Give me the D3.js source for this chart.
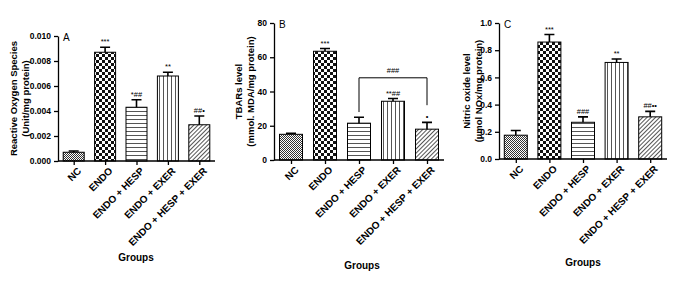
<!DOCTYPE html>
<html lang="en">
<head>
<meta charset="UTF-8">
<title>Oxidative stress markers</title>
<script src="https://cdn.jsdelivr.net/npm/d3@7/dist/d3.min.js"></script>
<style>
  body { margin: 0; background: #fff; }
  text { font-family: "Liberation Sans", Arial, sans-serif; fill: #000; }
  .axis path, .axis line { stroke: #000; stroke-width: 1.3px; }
  .axis text { font-weight: bold; fill: #000; }
  .y.axis text { font-family: "Liberation Sans Narrow", "Arial Narrow", sans-serif; font-size: 8.5px; }
  .x.axis text { font-size: 10px; }
</style>
</head>
<body>
<script>
// groups and values
var groups = ["NC", "ENDO", "ENDO + HESP", "ENDO + EXER", "ENDO + HESP + EXER"];

var rosMean = [0.0007, 0.0087, 0.0043, 0.0068, 0.0029];
var rosErr = [0.0001, 0.0004, 0.0006, 0.0003, 0.0007];
var rosMarks = ["", "***", "*##", "**", "##\u2022"];
var rosTicks = [0, 0.002, 0.004, 0.006, 0.008, 0.010];

var tbarsMean = [15, 63.5, 21.5, 34.3, 18];
var tbarsErr = [0.6, 1.6, 3.5, 1.6, 4];
var tbarsMarks = ["", "***", "", "**##", "\u2022"];
var tbarsTicks = [0, 20, 40, 60, 80];

var noMean = [0.175, 0.86, 0.27, 0.71, 0.31];
var noErr = [0.035, 0.055, 0.04, 0.025, 0.04];
var noMarks = ["", "***", "###", "**", "##\u2022\u2022"];
var noTicks = [0, 0.2, 0.4, 0.6, 0.8, 1.0];

// bracket in panel B: from group 2 to group 4
var bracketB = { from: 2, to: 4, top: 48, leftEnd: 28, rightEnd: 32, label: "###" };

var w = 684, h = 281;
var svg = d3.select("body").append("svg")
    .attr("width", w)
    .attr("height", h);

// fill patterns
var defs = svg.append("defs");

var p0 = defs.append("pattern").attr("id", "pat0").attr("patternUnits", "userSpaceOnUse")
    .attr("width", 2).attr("height", 2);
p0.append("rect").attr("width", 2).attr("height", 2).attr("fill", "#fff");
p0.append("rect").attr("width", 1).attr("height", 1).attr("fill", "#333");
p0.append("rect").attr("x", 1).attr("y", 1).attr("width", 1).attr("height", 1).attr("fill", "#333");

var p1 = defs.append("pattern").attr("id", "pat1").attr("patternUnits", "userSpaceOnUse")
    .attr("width", 6).attr("height", 6);
p1.append("rect").attr("width", 6).attr("height", 6).attr("fill", "#fff");
p1.append("rect").attr("width", 3).attr("height", 3).attr("fill", "#111");
p1.append("rect").attr("x", 3).attr("y", 3).attr("width", 3).attr("height", 3).attr("fill", "#111");

var p2 = defs.append("pattern").attr("id", "pat2").attr("patternUnits", "userSpaceOnUse")
    .attr("width", 4).attr("height", 4);
p2.append("rect").attr("width", 4).attr("height", 4).attr("fill", "#fff");
p2.append("rect").attr("y", 3).attr("width", 4).attr("height", 1).attr("fill", "#555");

var p3 = defs.append("pattern").attr("id", "pat3").attr("patternUnits", "userSpaceOnUse")
    .attr("width", 4).attr("height", 4);
p3.append("rect").attr("width", 4).attr("height", 4).attr("fill", "#fff");
p3.append("rect").attr("x", 3).attr("width", 1).attr("height", 4).attr("fill", "#555");

var p4 = defs.append("pattern").attr("id", "pat4").attr("patternUnits", "userSpaceOnUse")
    .attr("width", 3).attr("height", 3).attr("patternTransform", "rotate(45)");
p4.append("rect").attr("width", 3).attr("height", 3).attr("fill", "#fff");
p4.append("rect").attr("width", 1).attr("height", 3).attr("fill", "#555");

var fills = ["url(#pat0)", "url(#pat1)", "url(#pat2)", "url(#pat3)", "url(#pat4)"];

function drawPanel(cfg) {
    var g = svg.append("g");

    var xScale = d3.scalePoint()
        .domain(groups)
        .range([cfg.x0, cfg.x1])
        .padding(0.5);

    var yScale = d3.scaleLinear()
        .domain([0, cfg.ticks[cfg.ticks.length - 1]])
        .range([cfg.y0, cfg.y1]);

    // bars
    g.selectAll(".bar")
        .data(cfg.mean)
        .enter()
        .append("rect")
        .attr("x", function(d, i) { return xScale(groups[i]) - cfg.bw / 2; })
        .attr("y", function(d) { return yScale(d); })
        .attr("width", cfg.bw)
        .attr("height", function(d) { return cfg.y0 - yScale(d); })
        .attr("fill", function(d, i) { return fills[i]; })
        .attr("stroke", "#000")
        .attr("stroke-width", 1);

    // error bars (upper only)
    g.selectAll(".err")
        .data(cfg.mean)
        .enter()
        .append("path")
        .attr("d", function(d, i) {
            var cx = xScale(groups[i]);
            var top = yScale(d + cfg.err[i]);
            return "M" + cx + "," + yScale(d) + "V" + top +
                "M" + (cx - 5) + "," + top + "H" + (cx + 5);
        })
        .attr("stroke", "#000")
        .attr("stroke-width", 1.6)
        .attr("fill", "none");

    // significance marks
    g.selectAll(".mark")
        .data(cfg.marks)
        .enter()
        .append("text")
        .attr("x", function(d, i) { return xScale(groups[i]); })
        .attr("y", function(d, i) { return yScale(cfg.mean[i] + cfg.err[i]) - 3; })
        .attr("text-anchor", "middle")
        .style("font-size", "7.5px")
        .text(function(d) { return d; });

    // axes
    g.append("g")
        .attr("class", "x axis")
        .attr("transform", "translate(0," + cfg.y0 + ")")
        .call(d3.axisBottom(xScale).tickSizeOuter(0).tickSize(4))
        .call(function(a) { a.select(".domain").attr("d", "M" + cfg.x0 + ",0H" + cfg.x1); })
        .selectAll("text")
        .attr("text-anchor", "end")
        .attr("dx", "-0.2em")
        .attr("dy", "0.6em")
        .attr("transform", "rotate(-45)");

    g.append("g")
        .attr("class", "y axis")
        .attr("transform", "translate(" + cfg.x0 + ",0)")
        .call(d3.axisLeft(yScale).tickValues(cfg.ticks).tickFormat(d3.format(cfg.fmt)).tickSize(4).tickSizeOuter(0));

    // panel letter
    g.append("text")
        .attr("x", cfg.x0 + 5)
        .attr("y", cfg.y1 + 5)
        .style("font-size", "10px")
        .text(cfg.letter);

    // y axis title
    var cy = (cfg.y0 + cfg.y1) / 2;
    cfg.ylab.forEach(function(t, i) {
        g.append("text")
            .attr("transform", "translate(" + (cfg.labX + i * 12) + "," + cy + ") rotate(-90)")
            .attr("text-anchor", "middle")
            .attr("dy", "0.35em")
            .style("font-size", "9.5px")
            .style("font-weight", "bold")
            .text(t);
    });

    // x axis title
    g.append("text")
        .attr("x", cfg.gx)
        .attr("y", cfg.gy)
        .attr("text-anchor", "middle")
        .style("font-size", "10px")
        .style("font-weight", "bold")
        .text("Groups");

    return { x: xScale, y: yScale, g: g };
}

drawPanel({
    x0: 58, x1: 215, y0: 161, y1: 36, bw: 21,
    mean: rosMean, err: rosErr, marks: rosMarks, ticks: rosTicks, fmt: ".3f",
    letter: "A", ylab: ["Reactive Oxygen Species", "(Unit/mg protein)"], labX: 14,
    gx: 136, gy: 261
});

var pb = drawPanel({
    x0: 274, x1: 444, y0: 160, y1: 23, bw: 23,
    mean: tbarsMean, err: tbarsErr, marks: tbarsMarks, ticks: tbarsTicks, fmt: "d",
    letter: "B", ylab: ["TBARs level", "(mmol. MDA/mg protein)"], labX: 239,
    gx: 362, gy: 269
});

// bracket in B
var bx1 = pb.x(groups[bracketB.from]), bx2 = pb.x(groups[bracketB.to]);
pb.g.append("path")
    .attr("d", "M" + bx1 + "," + pb.y(bracketB.leftEnd) + "V" + pb.y(bracketB.top) +
        "H" + bx2 + "V" + pb.y(bracketB.rightEnd))
    .attr("fill", "none")
    .attr("stroke", "#000")
    .attr("stroke-width", 1);
pb.g.append("text")
    .attr("x", (bx1 + bx2) / 2)
    .attr("y", pb.y(bracketB.top) - 5)
    .attr("text-anchor", "middle")
    .style("font-size", "7.5px")
    .text(bracketB.label);

drawPanel({
    x0: 499, x1: 667, y0: 159, y1: 23, bw: 23,
    mean: noMean, err: noErr, marks: noMarks, ticks: noTicks, fmt: ".1f",
    letter: "C", ylab: ["Nitric oxide level", "(\u00b5mol NOx/mg protein)"], labX: 467,
    gx: 583, gy: 266
});
</script>
</body>
</html>
